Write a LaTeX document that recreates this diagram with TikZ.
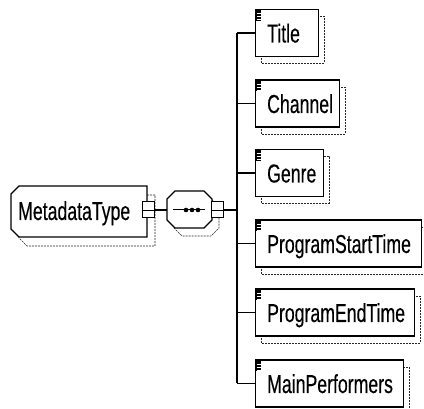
\documentclass[tikz,border=0pt]{standalone}
\usepackage{fontspec}
\setmainfont{Liberation Sans}[FakeStretch=0.68, FakeBold=0.3]
\usetikzlibrary{calc}
\begin{document}
\begin{tikzpicture}[x=1pt,y=-1pt,
  outline/.style={line width=1.1pt, draw=black, fill=white},
  shade/.style={line width=0.7pt, black!85, dash pattern=on 2pt off 1pt},
  wire/.style={line width=1.1pt, black},
  elbox/.style={draw, line width=1.1pt, fill=white, rectangle, inner sep=0pt, minimum height=47pt, anchor=west},
  lbl/.style={inner sep=0pt, anchor=base west, font=\fontsize{26}{28}\selectfont},
  toggle/.style={draw, line width=1pt, fill=white, inner sep=0pt, minimum width=12pt, minimum height=16pt},
  hole/.style={inner sep=0pt},
]
\useasboundingbox (0,0) rectangle (424,409);

% bus that carries the children of the sequence
\coordinate (bustop) at (237,33);

% ---- child elements ----
\foreach \nm/\cy/\w/\txt in {title/33/63/Title, channel/103.5/84/Channel, genre/173/68/Genre,
    pstart/243.5/166/ProgramStartTime, pend/312.5/159/ProgramEndTime, performers/383.5/148/MainPerformers} {
  \draw[shade] (261,\cy-16.5) rectangle ++(\w,47);
  \node[elbox, minimum width=\w pt] (\nm) at (255,\cy) {};
  % annotation marker in the upper left corner
  \fill[black] (255.5,\cy-23) rectangle (261,\cy-12);
  \foreach \dy in {-19.5,-16.5,-13.5}
    \draw[white, line width=0.7pt] (256.5,\cy+\dy) -- (261,\cy+\dy);
  \node[lbl] (\nm-txt) at (267,\cy+9.5) {\txt};
  \draw[wire] (\nm.west -| bustop) -- (\nm.west);
}
\draw[wire] (title.west -| bustop) -- (performers.west -| bustop);

% ---- root element ----
\draw[shade] (27,195) -- (155,195) -- (155,246) -- (27,246) -- (19,238) -- (19,203) -- cycle;
\draw[outline] (19,186) -- (147,186) -- (147,237) -- (19,237) -- (11,229) -- (11,194) -- cycle;
\node[lbl] (root) at (18,220) {MetadataType};
\node[toggle] (rootsq) at (148,210) {};
\draw[line width=0.9pt] (rootsq.west) -- (rootsq.east);

% ---- sequence compositor ----
\draw[shade] (182,199) -- (211,199) -- (219,207) -- (219,228) -- (211,236) -- (182,236) -- (174,228) -- (174,207) -- cycle;
\draw[outline] (175,191) -- (204,191) -- (212,199) -- (212,220) -- (204,228) -- (175,228) -- (167,220) -- (167,199) -- cycle;
\node[hole, minimum width=45pt, minimum height=37pt] (seq) at (189.5,210) {};
\draw[line width=1pt] (173,210) -- (205,210);
\foreach \dx in {186,192,198}
  \fill (\dx,210) circle (2.3pt);
\node[toggle] (seqsq) at (217.5,210) {};
\draw[line width=0.9pt] (seqsq.west) -- (seqsq.east);

\draw[wire] (rootsq.east) -- (seq.west);
\draw[wire] (seqsq.east) -- (seqsq.east -| bustop);
\end{tikzpicture}
\end{document}
